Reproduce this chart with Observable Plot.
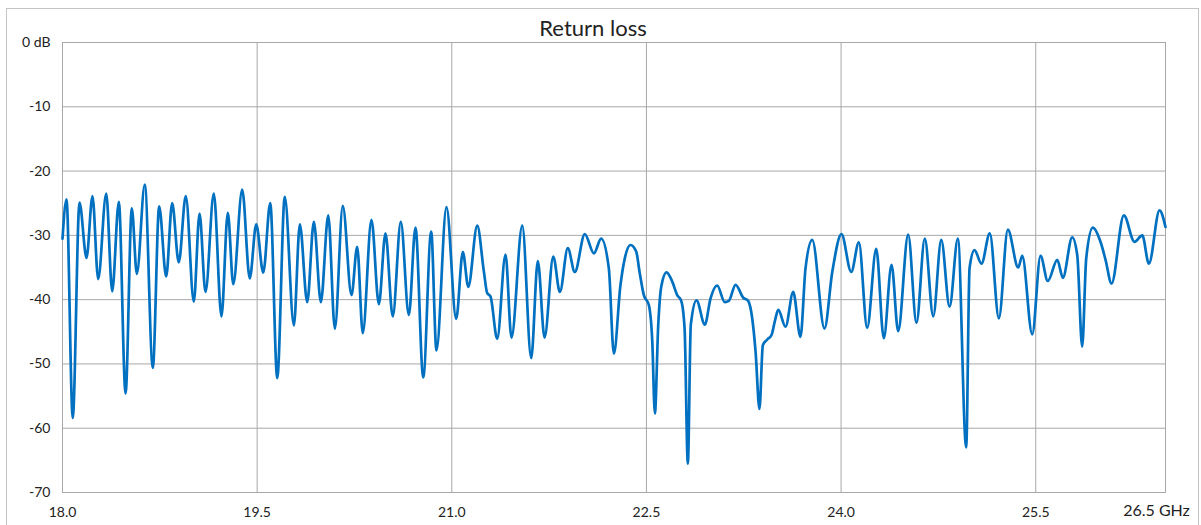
<!DOCTYPE html>
<html><head><meta charset="utf-8">
<script src="https://cdn.jsdelivr.net/npm/d3@7"></script>
<script src="https://cdn.jsdelivr.net/npm/@observablehq/plot@0.6"></script>
<style>
body{margin:0;background:#fff;overflow:hidden;font-family:Lato,"Open Sans",sans-serif}
#wrap{position:relative;width:1201px;height:525px}
#border{position:absolute;left:6px;top:8px;width:1191px;height:600px;border:1px solid #c4c4c4;pointer-events:none}
#wrap svg{position:absolute;left:0;top:0}
</style></head><body><div id="wrap"><div id="border"></div></div>
<script>
const freqGHz = [
18.000,18.031,18.079,18.131,18.185,18.231,18.275,18.337,18.383,18.434,18.486,18.534,18.573,18.634,18.696,18.745,18.799,18.845,18.896,18.950,
19.012,19.056,19.102,19.166,19.225,19.274,19.316,19.385,19.443,19.493,19.547,19.601,19.655,19.713,19.783,19.829,19.886,19.937,19.991,
20.048,20.099,20.160,20.227,20.271,20.314,20.381,20.438,20.489,20.545,20.607,20.669,20.720,20.780,20.841,20.882,20.959,
21.034,21.085,21.127,21.196,21.247,21.273,21.298,21.350,21.414,21.460,21.543,21.612,21.663,21.715,21.782,21.833,21.894,21.948,
22.025,22.095,22.151,22.210,22.249,22.300,22.333,22.377,22.421,22.447,22.480,22.518,22.545,22.565,22.591,22.614,22.655,22.699,22.737,22.768,22.794,22.819,22.842,22.886,22.950,22.994,
23.045,23.104,23.135,23.187,23.246,23.284,23.315,23.341,23.371,23.397,23.431,23.464,23.489,23.516,23.572,23.631,23.687,23.726,23.778,23.872,23.932,
24.003,24.078,24.137,24.201,24.271,24.329,24.389,24.440,24.517,24.581,24.645,24.710,24.772,24.836,24.900,24.964,24.990,
25.028,25.082,25.146,25.216,25.285,25.365,25.396,25.473,25.537,25.593,25.666,25.709,25.781,25.820,25.858,25.889,25.940,25.999,
26.038,26.084,26.179,26.261,26.321,26.372,26.454,26.500
];
const returnLossDb = [
-30.5,-24.4,-58.4,-24.9,-33.5,-23.9,-36.8,-23.5,-38.7,-24.8,-54.6,-25.8,-36.0,-22.1,-50.6,-25.5,-36.4,-25.0,-34.2,-23.9,
-40.3,-26.6,-38.8,-23.5,-42.6,-26.5,-37.6,-22.9,-36.7,-28.3,-35.8,-25.0,-52.2,-24.0,-44.0,-28.3,-40.4,-27.9,-40.4,
-26.9,-44.5,-25.4,-39.3,-31.8,-45.2,-27.6,-40.7,-29.7,-42.6,-27.9,-42.4,-28.8,-52.1,-29.4,-47.9,-25.6,
-43.0,-32.6,-38.0,-28.5,-35.6,-39.0,-39.5,-46.1,-33.0,-45.9,-28.5,-49.1,-34.0,-45.9,-33.3,-38.8,-32.0,-35.7,
-29.8,-32.8,-30.5,-35.1,-48.4,-37.7,-33.6,-31.5,-32.5,-35.7,-39.3,-40.8,-46.5,-57.7,-43.9,-38.0,-35.75,-37.2,-39.3,-40.2,-44.5,-65.5,-43.9,-40.1,-43.9,-39.8,
-37.8,-40.4,-40.2,-37.7,-39.7,-40.2,-42.9,-48.1,-57.0,-47.1,-46.2,-45.5,-43.4,-41.6,-44.2,-38.8,-45.8,-35.1,-30.7,-44.5,-35.7,
-29.8,-35.7,-31.1,-44.4,-32.1,-46.0,-34.6,-44.9,-29.9,-43.6,-30.5,-42.6,-30.7,-41.1,-30.5,-63.0,-35.1,
-32.3,-34.4,-29.7,-42.9,-29.1,-35.0,-33.2,-45.4,-33.2,-37.1,-33.8,-36.6,-30.3,-33.1,-47.3,-33.6,-28.8,-31.0,
-33.8,-37.5,-26.9,-31.0,-30.0,-34.4,-26.1,-28.7
];
const yTicks = [0, -10, -20, -30, -40, -50, -60, -70];
const xTicks = [18.0, 19.5, 21.0, 22.5, 24.0, 25.5];
const xEndLabel = "26.5 GHz";
const xEnd = 26.5;
const chartTitle = "Return loss";

const data = freqGHz.map((f, i) => ({f, db: returnLossDb[i]}));
const grid = "#a8a8a8";
const chart = Plot.plot({
  width: 1201, height: 525,
  marginLeft: 62, marginRight: 36, marginTop: 42, marginBottom: 33,
  x: {domain: [18, 26.5]},
  y: {domain: [-70, 0]},
  style: {fontFamily: "Lato, 'Open Sans', sans-serif", fontSize: "14px", color: "#222", background: "transparent", overflow: "visible"},
  marks: [
    Plot.gridX(xTicks, {stroke: grid, strokeOpacity: 1, strokeWidth: 1}),
    Plot.gridY(yTicks, {stroke: grid, strokeOpacity: 1, strokeWidth: 1}),
    Plot.frame({stroke: grid, strokeWidth: 1}),
    Plot.axisY(yTicks, {tickSize: 0, tickPadding: 12, tickFormat: d => d === 0 ? "0 dB" : String(d), label: null, fontSize: 14}),
    Plot.axisX(xTicks, {tickSize: 0, tickPadding: 15, tickFormat: d => d.toFixed(1), label: null, fontSize: 14}),
    Plot.text([xEnd], {x: d => d, frameAnchor: "bottom", dy: 18, dx: -9, text: () => xEndLabel, fontSize: 16, fill: "#222", lineAnchor: "middle"}),
    Plot.line(data, {x: "f", y: "db", stroke: "#0070c0", strokeWidth: 2.7, curve: "monotone-x"}),
    Plot.text([chartTitle], {frameAnchor: "top", dy: -14, dx: -21, text: d => d, fontSize: 22, fill: "#222", lineAnchor: "middle"})
  ]
});
document.getElementById("wrap").appendChild(chart);
</script>
</body></html>
